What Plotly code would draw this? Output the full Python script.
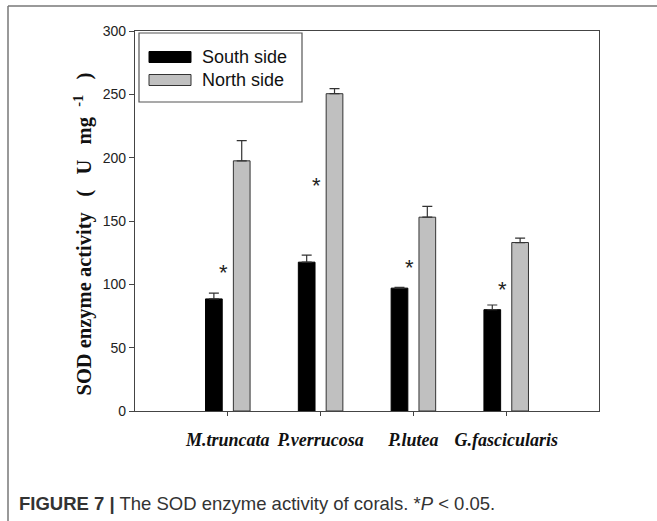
import plotly.graph_objects as go

categories = ["M.truncata", "P.verrucosa", "P.lutea", "G.fascicularis"]
south = [88.5, 117.5, 97.0, 80.0]
south_err = [4.5, 5.5, 0.7, 3.7]
north = [197.5, 250.5, 153.0, 133.0]
north_err = [16.0, 4.0, 8.5, 3.5]
star_y = [109, 178, 113, 96]
y_ticks = [0, 50, 100, 150, 200, 250, 300]

W, H = 657, 521
L, R, T, B = 135, 58, 31, 110
PW, PH = W - L - R, H - T - B


def px(x):
    return (x - L) / PW


def py(y):
    return (H - B - y) / PH


fig = go.Figure()
fig.add_trace(go.Bar(
    x=categories, y=south, name="South side",
    offset=-0.24, width=0.18,
    marker=dict(color="#000000", line=dict(color="#000000", width=1)),
    error_y=dict(type="data", array=south_err, arrayminus=[0] * 4, symmetric=False,
                 color="#333333", thickness=1.2, width=5),
    showlegend=False,
))
fig.add_trace(go.Bar(
    x=categories, y=north, name="North side",
    offset=0.06, width=0.18,
    marker=dict(color="#c0c0c0", line=dict(color="#333333", width=1)),
    error_y=dict(type="data", array=north_err, arrayminus=[0] * 4, symmetric=False,
                 color="#333333", thickness=1.2, width=5),
    showlegend=False,
))

for c, sy in zip(categories, star_y):
    fig.add_annotation(x=c, xshift=-4, y=sy, xref="x", yref="y", text="*",
                       showarrow=False, font=dict(family="Liberation Sans", size=22, color="#222"))

shapes = []
# outer panel border (top and left visible)
shapes.append(dict(type="line", xref="paper", yref="paper", x0=px(8), x1=px(660), y0=py(6), y1=py(6),
                   line=dict(color="#777", width=1.5)))
shapes.append(dict(type="line", xref="paper", yref="paper", x0=px(8), x1=px(8), y0=py(6), y1=py(525),
                   line=dict(color="#777", width=1.5)))
# legend box
shapes.append(dict(type="rect", xref="paper", yref="paper", x0=px(139), x1=px(302), y0=py(33), y1=py(102),
                   line=dict(color="#555", width=1.2), fillcolor="white"))
shapes.append(dict(type="rect", xref="paper", yref="paper", x0=px(149), x1=px(191), y0=py(51.5), y1=py(62.5),
                   line=dict(color="#000", width=1), fillcolor="#000"))
shapes.append(dict(type="rect", xref="paper", yref="paper", x0=px(149), x1=px(191), y0=py(74.5), y1=py(85.5),
                   line=dict(color="#333", width=1), fillcolor="#c0c0c0"))
fig.update_layout(shapes=shapes)

for txt, yy in [("South side", 57), ("North side", 80)]:
    fig.add_annotation(x=px(200), y=py(yy), xref="paper", yref="paper", text=txt, showarrow=False,
                       xanchor="left", yanchor="middle",
                       font=dict(family="Liberation Sans", size=18, color="#111"))

nb = "&nbsp;"
ytitle = ("<b>SOD enzyme activity" + nb * 3 + "(" + nb * 3 + "U" + nb * 3 + "mg" + nb * 2
          + "<sup>-1</sup>" + nb * 3 + ")</b>")
fig.add_annotation(x=px(83), y=py(234.5), xref="paper", yref="paper", textangle=-90,
                   text=ytitle, showarrow=False,
                   xanchor="center", yanchor="middle",
                   font=dict(family="Liberation Serif", size=20.5, color="#111"))

fig.add_annotation(x=px(17), y=py(503), xref="paper", yref="paper",
                   text="<b>FIGURE 7 |</b> The SOD enzyme activity of corals. *<i>P</i> &lt; 0.05.",
                   showarrow=False, xanchor="left", yanchor="middle",
                   font=dict(family="Liberation Sans", size=18.5, color="#333"))

fig.update_layout(
    width=W, height=H,
    margin=dict(l=L, r=R, t=T, b=B, pad=0),
    paper_bgcolor="white", plot_bgcolor="white",
    barmode="overlay",
    xaxis=dict(type="category", range=[-1, 4], showgrid=False, zeroline=False,
               showline=True, linecolor="#444", linewidth=1.2, mirror=True,
               ticks="outside", ticklen=4, tickcolor="#444", tickwidth=1.2,
               ticklabelstandoff=8,
               tickfont=dict(family="Liberation Serif", size=18, color="#111"),
               tickvals=categories,
               ticktext=["<b><i>%s</i></b>" % c for c in categories]),
    yaxis=dict(range=[0, 300], tickvals=y_ticks, showgrid=False, zeroline=False,
               showline=True, linecolor="#444", linewidth=1.2, mirror=True,
               ticks="outside", ticklen=5, tickcolor="#444", tickwidth=1.2,
               tickfont=dict(family="Liberation Sans", size=14, color="#222")),
)

fig.write_html("out.html")
